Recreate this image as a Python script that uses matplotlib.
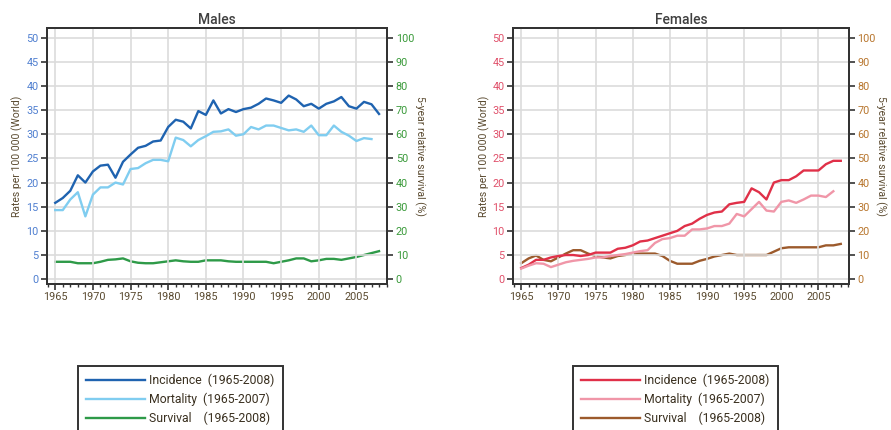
import numpy as np
import matplotlib.pyplot as plt
from matplotlib.ticker import MultipleLocator

plt.rcParams['font.family'] = ['Roboto', 'DejaVu Sans']

years = np.arange(1965, 2009)
years_mort = np.arange(1965, 2008)

# Males
m_incidence = [15.8, 16.8, 18.3, 21.5, 20.0, 22.3, 23.5, 23.7, 21.0, 24.3,
               25.8, 27.2, 27.6, 28.5, 28.7, 31.5, 33.0, 32.6, 31.2, 34.8,
               34.0, 37.0, 34.3, 35.2, 34.6, 35.2, 35.5, 36.3, 37.4, 37.0,
               36.5, 38.0, 37.2, 35.8, 36.3, 35.3, 36.3, 36.8, 37.7, 35.8,
               35.3, 36.7, 36.2, 34.2]
m_mortality = [14.3, 14.3, 16.5, 18.0, 13.0, 17.5, 19.0, 19.0, 20.0, 19.6,
               22.8, 23.0, 24.0, 24.7, 24.7, 24.4, 29.3, 28.8, 27.5, 28.8,
               29.6, 30.5, 30.6, 31.0, 29.7, 30.0, 31.5, 31.0, 31.8, 31.8,
               31.3, 30.8, 31.0, 30.5, 31.8, 29.8, 29.8, 31.8, 30.5, 29.7,
               28.6, 29.2, 29.0]
m_survival = [7.2, 7.2, 7.2, 6.6, 6.6, 6.6, 7.2, 8.0, 8.2, 8.6,
              7.4, 6.8, 6.6, 6.6, 7.0, 7.4, 7.8, 7.4, 7.2, 7.2,
              7.8, 7.8, 7.8, 7.4, 7.2, 7.2, 7.2, 7.2, 7.2, 6.6,
              7.2, 7.8, 8.6, 8.6, 7.4, 7.8, 8.4, 8.4, 8.0, 8.6,
              9.2, 10.0, 10.8, 11.6]

# Females
f_incidence = [2.3, 3.0, 4.0, 4.0, 4.5, 4.8, 5.0, 5.0, 4.8, 5.0,
               5.5, 5.5, 5.5, 6.3, 6.5, 7.0, 7.8, 8.0, 8.5, 9.0,
               9.5, 10.0, 11.0, 11.5, 12.5, 13.3, 13.8, 14.0, 15.5, 15.8,
               16.0, 18.8, 18.0, 16.5, 20.0, 20.5, 20.5, 21.3, 22.5, 22.5,
               22.5, 23.8, 24.5, 24.5]
f_mortality = [2.2, 2.8, 3.3, 3.2, 2.5, 3.0, 3.5, 3.8, 4.0, 4.2,
               4.5, 4.5, 4.8, 5.0, 5.2, 5.5, 5.8, 6.0, 7.5, 8.3,
               8.5, 9.0, 9.0, 10.3, 10.3, 10.5, 11.0, 11.0, 11.5, 13.5,
               13.0, 14.5, 16.0, 14.2, 14.0, 16.0, 16.3, 15.8, 16.5, 17.3,
               17.3, 17.0, 18.2]
f_survival = [6.6, 8.6, 9.8, 8.0, 7.4, 9.0, 10.6, 12.0, 12.0, 10.6,
              9.6, 9.0, 8.6, 9.6, 10.0, 10.6, 10.6, 10.6, 10.6, 9.6,
              7.6, 6.4, 6.4, 6.4, 7.6, 8.4, 9.4, 10.0, 10.6, 10.0,
              10.0, 10.0, 10.0, 10.0, 11.4, 12.8, 13.2, 13.2, 13.2, 13.2,
              13.2, 14.0, 14.0, 14.6]

labels = ['Incidence  (1965-2008)', 'Mortality  (1965-2007)', 'Survival    (1965-2008)']

panels = [
    dict(title='Males', pos=[0.0527, 0.3395, 0.382, 0.5955],
         inc=m_incidence, mort=m_mortality, surv=m_survival,
         colors=['#1f63b0', '#80cdf0', '#2e9a48'],
         left_tc='#4f7fd0', right_tc='#3a9a3a', leg_x=0.0875),
    dict(title='Females', pos=[0.5758, 0.3395, 0.377, 0.5955],
         inc=f_incidence, mort=f_mortality, surv=f_survival,
         colors=['#e03048', '#f096a8', '#9c5a2c'],
         left_tc='#e0506a', right_tc='#b8762e', leg_x=0.643),
]

fig = plt.figure(figsize=(8.91, 4.30), dpi=100)

for p in panels:
    ax = fig.add_axes(p['pos'])
    ax2 = ax.twinx()
    ax.set_zorder(ax2.get_zorder() + 1)
    ax.patch.set_visible(False)

    l1, = ax.plot(years, p['inc'], color=p['colors'][0], lw=1.7)
    l2, = ax.plot(years_mort, p['mort'], color=p['colors'][1], lw=1.7)
    l3, = ax2.plot(years, p['surv'], color=p['colors'][2], lw=1.7)

    ax.set_xlim(1963.9, 2009.1)
    ax.set_ylim(-1, 52)
    ax2.set_ylim(-2, 104)
    ax.set_xticks(np.arange(1965, 2006, 5))
    ax.xaxis.set_minor_locator(MultipleLocator(1))
    ax.set_yticks(np.arange(0, 51, 5))
    ax2.set_yticks(np.arange(0, 101, 10))
    ax.grid(True, color='#dcdcdc', lw=1.2)
    ax.set_axisbelow(True)

    ax.tick_params(axis='both', which='major', direction='out', length=4,
                   width=1.2, labelsize=7.8, pad=2, color='#333333')
    ax.tick_params(axis='x', which='minor', direction='out', length=2.5,
                   width=1.0, color='#333333')
    ax.tick_params(axis='x', labelcolor='#5a4a30')
    ax.tick_params(axis='y', labelcolor=p['left_tc'])
    ax2.tick_params(axis='y', direction='out', length=4, width=1.2, pad=2,
                    labelsize=7.8, color='#333333', labelcolor=p['right_tc'])

    for a in (ax, ax2):
        for s in a.spines.values():
            s.set_color('#333333')
            s.set_linewidth(1.4)

    ax.set_title(p['title'], fontsize=10, fontweight='medium', color='#404040', pad=3)
    ax.set_ylabel('Rates per 100 000 (World)', fontsize=7.5, color='#5a4a30', labelpad=2)
    ax2.set_ylabel('5-year relative survival (%)', fontsize=7.5, color='#5a4a30',
                   rotation=270, labelpad=8)

    leg = fig.legend([l1, l2, l3], labels, loc='upper left',
                     bbox_to_anchor=(p['leg_x'], 0.149), fontsize=8.8,
                     handlelength=4.8, handletextpad=0.4, labelspacing=0.45,
                     borderpad=0.65, borderaxespad=0, fancybox=False,
                     framealpha=1, edgecolor='#333333')
    leg.get_frame().set_linewidth(1.4)
    for t in leg.get_texts():
        t.set_color('#3a3020')

fig.savefig('out.png', dpi=100)
